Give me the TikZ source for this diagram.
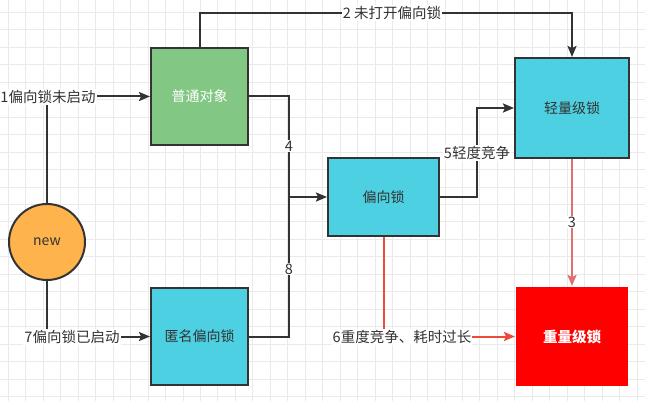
\documentclass[tikz,border=0pt]{standalone}
\usepackage{fontspec}
\setmainfont{Noto Sans CJK SC}
\usetikzlibrary{arrows.meta}
\definecolor{gridc}{HTML}{EAEAEA}
\definecolor{darkc}{HTML}{333333}
\definecolor{greenc}{HTML}{82C784}
\definecolor{cyanc}{HTML}{4DD0E1}
\definecolor{orangec}{HTML}{FFB34D}
\definecolor{lred}{HTML}{E07070}
\definecolor{sred}{HTML}{EE4A3C}
\tikzset{
  box/.style={draw=darkc, line width=2pt, rectangle, inner sep=0pt, font=\fontsize{14}{16}\selectfont, text=darkc},
  conn/.style={draw=darkc, line width=2pt},
  tip/.style={-{Stealth[length=11pt,width=9pt,inset=2pt]}},
  arr/.style={conn, tip},
  lbl/.style={fill=white, inner sep=1pt, font=\fontsize{14.5}{16}\selectfont, text=darkc},
}
\begin{document}
\begin{tikzpicture}[x=1pt,y=-1pt]
\useasboundingbox (0,0) rectangle (645,401);
\fill[white] (0,0) rectangle (645,401);
% grid
\foreach \i in {0,...,37} {
  \draw[gridc, line width=1pt] ({8.3+17.47*\i},0) -- ({8.3+17.47*\i},401);
}
\foreach \i in {0,...,22} {
  \draw[gridc, line width=1pt] (0,{12.3+17.47*\i}) -- (645,{12.3+17.47*\i});
}
% nodes
\node[box, fill=greenc, text=white, minimum width=97pt, minimum height=97pt] (po) at (199.5,96.5) {普通对象};
\node[box, fill=cyanc, minimum width=114pt, minimum height=100pt] (light) at (572,108) {轻量级锁};
\node[box, fill=cyanc, minimum width=111pt, minimum height=78pt] (bias) at (383.5,197) {偏向锁};
\node[box, fill=cyanc, minimum width=97pt, minimum height=97pt] (anon) at (199.5,336.5) {匿名偏向锁};
\node[box, draw=none, fill=red, text=white, font=\fontsize{14.5}{16}\selectfont\bfseries, minimum width=112pt, minimum height=99pt] (heavy) at (572,336.5) {重量级锁};
\node[box, circle, fill=orangec, minimum size=76pt] (new) at (47,242) {new};
\coordinate (top) at (0,13);
\coordinate (j) at (289,197);
\coordinate (k) at (477,0);
% connectors
\draw[arr] (new.north) |- (po.west);
\draw[arr] (new.south) |- (anon.west);
\draw[arr] (po.north) -- (po.north |- top) -| (light.north);
\draw[arr] (po.east) -| (j) -- (bias.west);
\draw[conn] (anon.east) -| (j);
\draw[arr] (bias.east) -- (bias.east -| k) |- (light.west);
\draw[tip, draw=lred, line width=2pt] (light.south) -- (heavy.north);
\draw[tip, draw=sred, line width=2pt] (bias.south) |- (heavy.west);
% labels
\node[lbl] (l1) at (48,97) {1偏向锁未启动};
\node[lbl] (l7) at (72,337) {7偏向锁已启动};
\node[lbl] (l2) at (392,13) {2 未打开偏向锁};
\node[lbl] (l4) at (289,146) {4};
\node[lbl] (l8) at (289,269) {8};
\node[lbl] (l5) at (477,153) {5轻度竞争};
\node[lbl] (l3) at (572,222) {3};
\node[lbl] (l6) at (402,337) {6重度竞争、耗时过长};
\end{tikzpicture}
\end{document}
